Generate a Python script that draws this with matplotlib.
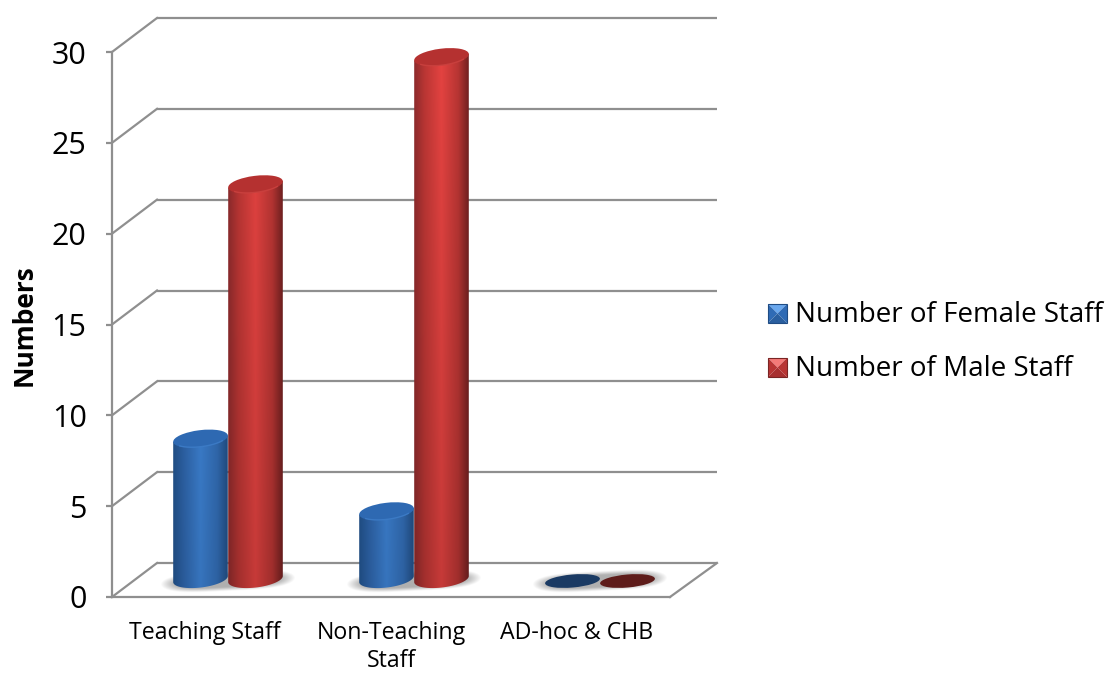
import numpy as np
import matplotlib
matplotlib.use('Agg')
import matplotlib.pyplot as plt
from matplotlib.patches import Ellipse, PathPatch, Polygon
from matplotlib.path import Path
from matplotlib.transforms import Affine2D, IdentityTransform

categories = ['Teaching Staff', 'Non-Teaching\nStaff', 'AD-hoc & CHB']
female = [8, 4, 0]
male = [22, 29, 0]
series_names = ['Number of Female Staff', 'Number of Male Staff']
yticks = [0, 5, 10, 15, 20, 25, 30]

W = 1107
H = 673
GREY = '#8f8f8f'
FONT = 'Open Sans'

blue = {
    'stops': ['#22548f', '#3068b0', '#3f86da', '#3470ba', '#224f86'],
    'top': '#2e69b2', 'rim': '#4c8fdc', 'flat': '#1a3a63',
}
red = {
    'stops': ['#8a2a2c', '#bb3634', '#e54341', '#b83533', '#6c1f1f'],
    'top': '#b53130', 'rim': '#e0524e', 'flat': '#5e1c1a',
}

fig = plt.figure(figsize=(W / 100, H / 100), dpi=100)
ax = fig.add_axes([112 / W, 1 - 597 / H, 558 / W, 545 / H])
disp = IdentityTransform()


def hex_rgb(c):
    return np.array(matplotlib.colors.to_rgb(c))


def ellipse_pts(cx, cy, a, b, t, angle=7):
    th = np.radians(angle)
    x = cx + a * np.cos(t) * np.cos(th) - b * np.sin(t) * np.sin(th)
    y = cy + a * np.cos(t) * np.sin(th) + b * np.sin(t) * np.cos(th)
    return x, y


def cylinder(xc, value, style):
    cx, top = ax.transData.transform((xc, value))
    a = 27.5
    b = 8.5
    if value == 0:
        ax.add_patch(Ellipse((cx, top + 16), 2 * a, 13, angle=5, transform=disp,
                             fc=style['flat'], ec='none', clip_on=False, zorder=4))
        return
    top = top + 13
    base = ax.transData.transform((xc, 0))[1] + 18
    t = np.linspace(np.pi, 2 * np.pi, 60)
    bx, by = ellipse_pts(cx, base, a, b, t)
    tx, ty = ellipse_pts(cx, top, a, b, np.array([0.0, np.pi]))
    verts = np.vstack([np.c_[[tx[1]], [ty[1]]], np.c_[bx, by], np.c_[[tx[0]], [ty[0]]], [[tx[1], ty[1]]]])
    outline = PathPatch(Path(verts), transform=disp, fc='none', ec='none', clip_on=False, zorder=3)
    ax.add_patch(outline)

    # side shading, a bit darker lower down the plot
    n = 80
    pos = np.linspace(0, 1, n)
    cols = np.array([hex_rgb(c) for c in style['stops']])
    row = np.stack([np.interp(pos, [0, 0.2, 0.5, 0.8, 1], cols[:, i]) for i in range(3)], axis=1)
    y0 = base - b - 6
    y1 = top + 12
    shade = 0.86 + 0.14 * (np.linspace(y0, y1, 60) - 60) / (H - 100)
    img = row[None, :, :] * shade[:, None, None]
    im = ax.imshow(np.clip(img, 0, 1), extent=(cx - a - 1, cx + a + 1, y0, y1), origin='lower',
                   aspect='auto', transform=disp, zorder=3, interpolation='bilinear')
    im.set_clip_path(outline)

    ax.add_patch(Ellipse((cx, top), 2 * a, 2 * b, angle=7, transform=disp,
                         fc=style['top'], ec='none', clip_on=False, zorder=3.1))
    rx, ry = ellipse_pts(cx, top, a - 1, b - 0.5, np.linspace(1.2 * np.pi, 1.8 * np.pi, 40))
    ax.plot(rx, ry, color=style['rim'], lw=1.0, alpha=0.45, transform=disp, clip_on=False, zorder=3.2)


def shadow(cx, cy):
    xs = np.linspace(-75, 75, 151)
    ys = np.linspace(-16, 16, 65)
    xx, yy = np.meshgrid(xs, ys)
    r = np.sqrt((xx / 64) ** 4 + ((yy - xx * 0.05) / 9) ** 2)
    alpha = np.clip((1.12 - r) / 0.45, 0, 1) * 0.62
    img = np.zeros(xx.shape + (4,))
    img[..., :3] = 0.5
    img[..., 3] = alpha
    ax.imshow(img, extent=(cx - 75, cx + 75, cy - 16, cy + 16), origin='lower', aspect='auto',
              transform=disp, zorder=2, interpolation='bilinear')


ax.set_xlim(0, 3)
ax.set_ylim(0, 30)

# back wall and side wall gridlines
back = ax.transData + Affine2D().translate(45, 34)
for v in yticks:
    ax.plot([0, 3.01], [v, v], color=GREY, lw=1.6, transform=back, clip_on=False, zorder=1,
            solid_capstyle='butt')
    x0, y0 = ax.transData.transform((0, v))
    ax.plot([x0, x0 + 45], [y0, y0 + 34], color=GREY, lw=1.6, transform=disp, clip_on=False, zorder=1)
x0, y0 = ax.transData.transform((3, 0))
ax.plot([x0, x0 + 47], [y0, y0 + 34], color=GREY, lw=1.6, transform=disp, clip_on=False, zorder=1)

width = 55 / 186
for i in range(len(categories)):
    xc = i + 0.5 + 23 / 186
    px, py = ax.transData.transform((xc, 0))
    shadow(px, py + 16)
    cylinder(xc - width / 2, female[i], blue)
    cylinder(xc + width / 2, male[i], red)

ax.set_xlim(0, 3)
ax.set_ylim(0, 30)
ax.set_aspect('auto')
ax.patch.set_visible(False)

for s in ['top', 'right']:
    ax.spines[s].set_visible(False)
for s in ['left', 'bottom']:
    ax.spines[s].set_color(GREY)
    ax.spines[s].set_linewidth(1.6)

ax.set_yticks(yticks)
ax.set_yticklabels([str(v) for v in yticks], fontsize=22, family=FONT, color='black')
ax.tick_params(axis='y', length=4.3, width=1.6, color=GREY, pad=14)
ax.set_xticks([0.5, 1.5, 2.5])
ax.set_xticklabels(categories, fontsize=16.7, family=FONT, color='black', linespacing=1.2)
ax.tick_params(axis='x', length=0, pad=17.5)
fig.text(24 / W, 1 - 325 / H, 'Numbers', rotation=90, ha='center', va='center',
         fontsize=19, fontweight='bold', family=FONT)

# legend
swatches = [('#6aa8ee', '#2f6bb5', '#1f4c84', '#2a5f9f'), ('#f47a78', '#b83534', '#7a2524', '#a83030')]
for name, ytop, sw in zip(series_names, [304, 358], swatches):
    l, r = 768, 787
    t, b = H - ytop, H - ytop - 19
    mx, my = (l + r) / 2, (t + b) / 2
    for pts, c in [([(l, t), (r, t), (mx, my)], sw[0]),
                   ([(l, t), (l, b), (mx, my)], sw[1]),
                   ([(r, t), (r, b), (mx, my)], sw[1]),
                   ([(l, b), (r, b), (mx, my)], sw[3])]:
        fig.add_artist(Polygon(pts, closed=True, fc=c, ec='none', transform=disp))
    fig.add_artist(Polygon([(l, t), (r, t), (r, b), (l, b)], closed=True, fc='none', ec=sw[2], lw=0.8,
                           transform=disp))
    fig.text(795 / W, (my - 1) / H, name, ha='left', va='center', fontsize=20, family=FONT)

fig.savefig('out.png', dpi=100)
